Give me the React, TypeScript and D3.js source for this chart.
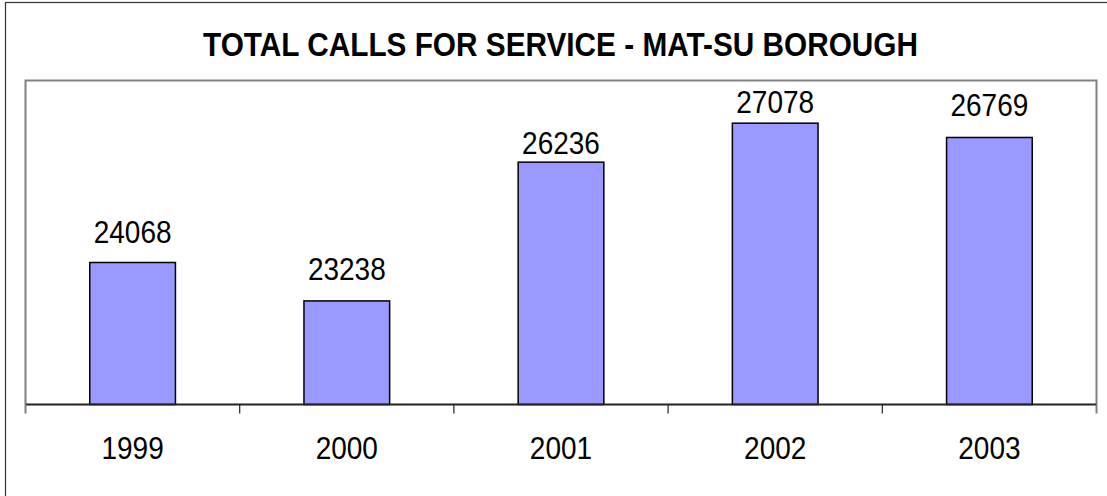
import React from "react";
import * as d3 from "d3";

const categories: string[] = ["1999", "2000", "2001", "2002", "2003"];
const values: number[] = [24068, 23238, 26236, 27078, 26769];
const yDomain: [number, number] = [21000, 28000];
const title = "TOTAL CALLS FOR SERVICE - MAT-SU BOROUGH";

export default function App() {
  const W = 1107;
  const H = 496;
  const plot = { left: 25.5, top: 80.5, right: 1096.5, bottom: 404.5 };
  const x = d3
    .scaleBand<string>()
    .domain(categories)
    .range([plot.left, plot.right])
    .paddingInner(0.6)
    .paddingOuter(0.3);
  const step = x.step();
  const y = d3.scaleLinear().domain(yDomain).range([plot.bottom, plot.top]);
  const labelGap = [19, 21, 8, 10, 21];
  const font = "'Liberation Sans', Arial, sans-serif";
  const tickXs = d3.range(categories.length + 1).map((i) => plot.left + i * step);
  const sy = 1.1;

  return (
    <svg
      width={W}
      height={H}
      style={{ position: "absolute", left: 0, top: 0, background: "#fff" }}
      fontFamily={font}
    >
      <rect x={0} y={0} width={W} height={H} fill="#fff" />
      <rect x={5.5} y={2.5} width={1120} height={520} fill="none" stroke="#333" strokeWidth={1.2} />
      <text
        transform={`translate(560.5,56) scale(1,1.08)`}
        textAnchor="middle"
        fontSize={30}
        fontWeight="bold"
        textLength={715}
        lengthAdjust="spacingAndGlyphs"
        fill="#000"
      >
        {title}
      </text>
      {/* plot area border */}
      <path
        d={`M${plot.left},${plot.bottom}V${plot.top}H${plot.right}V${plot.bottom}`}
        fill="none"
        stroke="#808080"
        strokeWidth={2}
      />
      {categories.map((c, i) => {
        const v = values[i];
        const bx = x(c)!;
        const bw = x.bandwidth();
        const top = y(v);
        return (
          <g key={c}>
            <rect
              x={bx}
              y={top}
              width={bw}
              height={plot.bottom - top}
              fill="#9999FF"
              stroke="#000"
              strokeWidth={1.5}
            />
            <text
              transform={`translate(${bx + bw / 2},${top - labelGap[i]}) scale(1,${sy})`}
              textAnchor="middle"
              fontSize={28}
              fill="#000"
            >
              {v}
            </text>
            <text
              transform={`translate(${bx + bw / 2},459) scale(1,${sy})`}
              textAnchor="middle"
              fontSize={28}
              fill="#000"
            >
              {c}
            </text>
          </g>
        );
      })}
      {/* x axis */}
      <line x1={plot.left} x2={plot.right} y1={plot.bottom} y2={plot.bottom} stroke="#222" strokeWidth={2} />
      {tickXs.map((tx, i) => (
        <line
          key={i}
          x1={tx}
          x2={tx}
          y1={plot.bottom}
          y2={plot.bottom + 9}
          stroke={i === 0 || i === tickXs.length - 1 ? "#808080" : "#222"}
          strokeWidth={i === 0 || i === tickXs.length - 1 ? 2 : 1.2}
        />
      ))}
    </svg>
  );
}
